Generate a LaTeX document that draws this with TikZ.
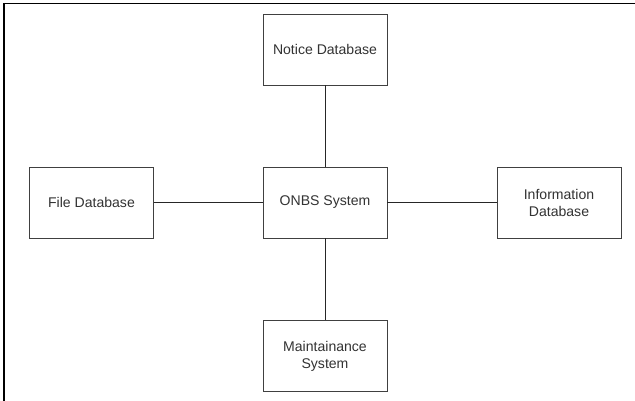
\documentclass[tikz,border=0pt]{standalone}
\usepackage{fontspec}
\setmainfont{Liberation Sans}
\usepackage{tikz}
\usetikzlibrary{positioning, calc}

\begin{document}
\begin{tikzpicture}[x=0.03cm, y=-0.03cm,
        block/.style={draw=black!75, line width=0.8pt, fill=white, minimum width=3.72cm, minimum height=2.13cm, align=center, font=\fontsize{12}{14.5}\selectfont, text=black!80, inner sep=2pt},
        link/.style={draw=black!85, line width=0.7pt}]

        \useasboundingbox (0,0) rectangle (635,401);

        % Frame
        \draw[line width=1.6pt] (4,401) -- (4,3.5) -- (635,3.5);

        % Central system
        \node[block] (onbs) at (325, 202.5) {ONBS System};

        % Notice Database
        \node[block] (notice) at (325, 49.5) {Notice Database};
        \draw[link] (notice) -- (onbs);

        % File Database
        \node[block] (file) at (91.5, 202.5) {File Database};
        \draw[link] (file) -- (onbs);

        % Information Database
        \node[block] (info) at (559, 202.5) {Information\\Database};
        \draw[link] (onbs) -- (info);

        % Maintainance System
        \node[block] (maint) at (325, 356) {Maintainance\\System};
        \draw[link] (onbs) -- (maint);

    \end{tikzpicture}
\end{document}
